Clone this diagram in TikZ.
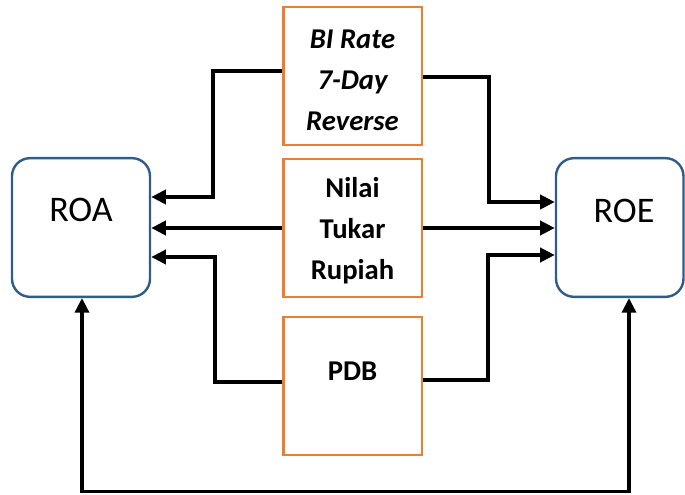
\documentclass[tikz,border=0pt]{standalone}
\usepackage{fontspec}
\setmainfont{Carlito}
\usetikzlibrary{arrows.meta}
\definecolor{boxorange}{HTML}{ED7D31}
\definecolor{boxblue}{HTML}{2F5C8A}
\begin{document}
\begin{tikzpicture}[x=0.75pt,y=-0.75pt,
  outbox/.style={draw=boxblue, line width=1.8pt, rounded corners=13.5pt, minimum height=104pt, inner sep=0pt},
  srcbox/.style={draw=boxorange, line width=2pt, minimum width=104pt, minimum height=103.5pt, inner sep=0pt},
  conn/.style={line width=3pt, -{Triangle[length=11pt,width=10.5pt]}},
  bigtxt/.style={font=\fontsize{27}{30}\selectfont},
  srctxt/.style={font=\fontsize{21.5}{30.75}\selectfont\bfseries, align=center}]
\useasboundingbox (0,0) rectangle (685,495);
% boxes
\node[outbox, minimum width=103.5pt] (roa) at (81,227.5) {};
\node[outbox, minimum width=95.6pt] (roe) at (619.75,227.5) {};
\node[srcbox] (bi) at (352.5,76) {};
\node[srcbox] (nilai) at (352.5,228) {};
\node[srcbox] (pdb) at (352.5,386) {};
% texts
\node[bigtxt] (roatxt) at (81,210) {ROA};
\node[bigtxt] (roetxt) at (624,211) {ROE};
\node[srctxt] (bitxt) at (352.5,80) {\itshape BI Rate\\\itshape 7-Day\\\itshape Reverse};
\node[srctxt] (nilaitxt) at (352.5,231) {Nilai\\Tukar\\Rupiah};
\node[srctxt] (pdbtxt) at (352.5,371) {PDB};
% bends
\coordinate (ja) at (213,197);
\coordinate (jb) at (489,202);
\coordinate (jc) at (215,257);
\coordinate (jd) at (488,255);
\coordinate (ke) at (82,491.5);
\coordinate (kf) at (629,491.5);
% connectors
\draw[conn] ([yshift=3.75pt]bi.west) -| (ja) -- (roa.east |- ja);
\draw[conn] ([yshift=-0.75pt]bi.east) -| (jb) -- (roe.west |- jb);
\draw[conn] (nilai.west) -- (roa.east |- nilai.west);
\draw[conn] (nilai.east) -- (roe.west |- nilai.east);
\draw[conn] ([yshift=3pt]pdb.west) -| (jc) -- (roa.east |- jc);
\draw[conn] ([yshift=4.5pt]pdb.east) -| (jd) -- (roe.west |- jd);
\draw[line width=2.6pt, {Triangle[length=11pt,width=10.5pt]}-{Triangle[length=11pt,width=10.5pt]}]
  (ke |- roa.south) -- (ke) -- (kf) -- (kf |- roe.south);
\end{tikzpicture}
\end{document}
